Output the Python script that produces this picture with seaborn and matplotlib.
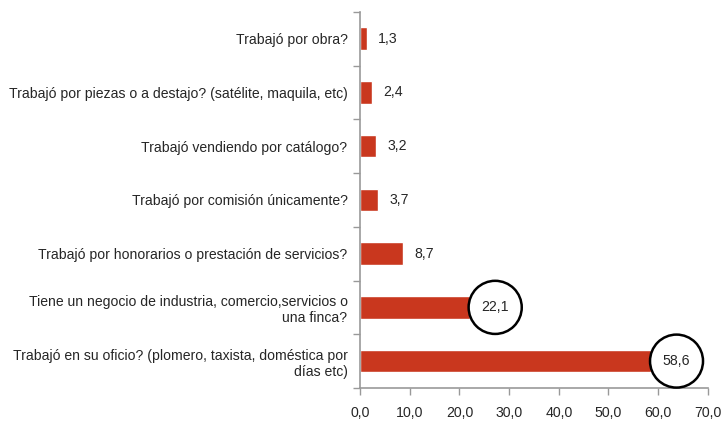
import matplotlib
matplotlib.use("Agg")
import matplotlib.pyplot as plt
import seaborn as sns
import pandas as pd
import numpy as np

categorias = [
    "Trabajó por obra?",
    "Trabajó por piezas o a destajo? (satélite, maquila, etc)",
    "Trabajó vendiendo por catálogo?",
    "Trabajó por comisión únicamente?",
    "Trabajó por honorarios o prestación de servicios?",
    "Tiene un negocio de industria, comercio,servicios o\nuna finca?",
    "Trabajó en su oficio? (plomero, taxista, doméstica por\ndías etc)",
]
porcentajes = [1.3, 2.4, 3.2, 3.7, 8.7, 22.1, 58.6]
circulados = [False, False, False, False, False, True, True]
xticks = [0, 10, 20, 30, 40, 50, 60, 70]

sns.set_theme(style="white")
plt.rcParams['font.family'] = ['Liberation Sans', 'DejaVu Sans']

df = pd.DataFrame({'cat': categorias, 'val': porcentajes})

fig = plt.figure(figsize=(7.23, 4.24), dpi=100)
ax = fig.add_axes([0.498, 0.085, 0.481, 0.887])
sns.barplot(data=df, x='val', y='cat', orient='h', color='#C9371E',
            saturation=1, width=0.42, ax=ax)

for i, (v, c) in enumerate(zip(porcentajes, circulados)):
    txt = f"{v:.1f}".replace('.', ',')
    if c:
        ax.text(v + 5.1, i, txt, ha='center', va='center', fontsize=10.2,
                bbox=dict(boxstyle='circle,pad=0.9', fc='white', ec='black', lw=1.8))
    else:
        ax.text(v + 2.3, i, txt, ha='left', va='center', fontsize=10.2)

ax.set_xlim(0, 70)
ax.set_ylim(len(categorias) - 0.5, -0.5)
ax.set_xticks(xticks)
ax.set_xticklabels([f"{t:.1f}".replace('.', ',') for t in xticks], fontsize=10.2)
ax.set_yticklabels(categorias, fontsize=10.1, multialignment='right')
ax.set_yticks(np.arange(-0.5, len(categorias)), minor=True)
ax.tick_params(axis='y', which='major', length=0, pad=9)
ax.tick_params(axis='y', which='minor', length=5, color='#999999', width=1, direction='out', left=True)
ax.tick_params(axis='x', length=5, color='#999999', width=1, direction='out', bottom=True, pad=8)
ax.set_xlabel('')
ax.set_ylabel('')
for s in ['top', 'right']:
    ax.spines[s].set_visible(False)
for s in ['left', 'bottom']:
    ax.spines[s].set_color('#999999')
    ax.spines[s].set_linewidth(1.2)

fig.savefig('out.png', dpi=100)
